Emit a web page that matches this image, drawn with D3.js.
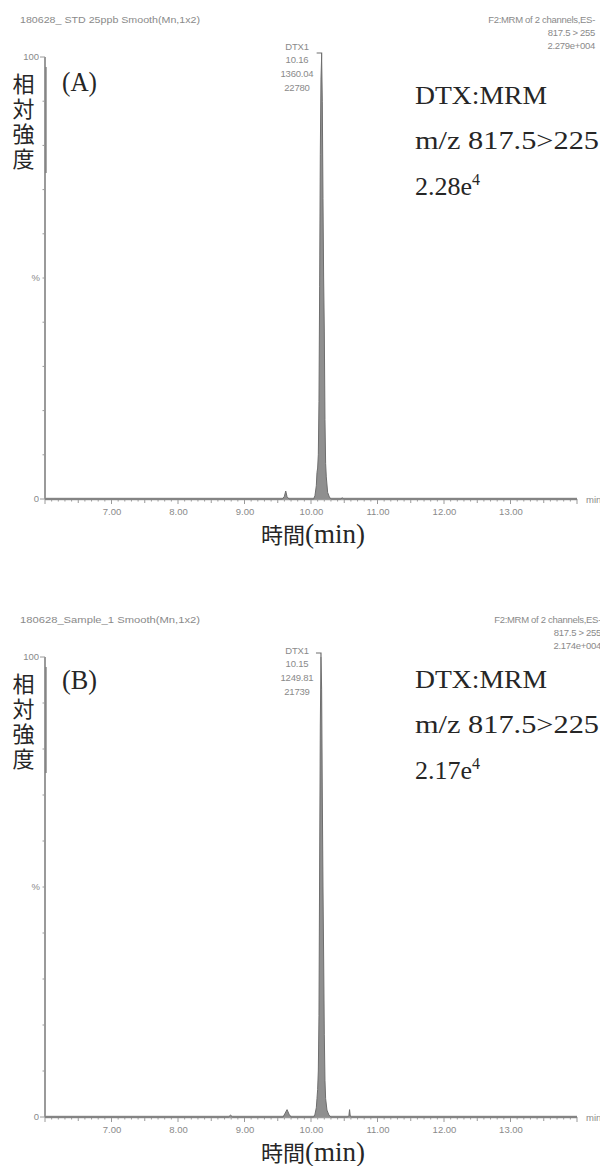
<!DOCTYPE html>
<html>
<head>
<meta charset="utf-8">
<script src="https://cdn.jsdelivr.net/npm/d3@7"></script>
<style>
  html, body { margin: 0; padding: 0; background: #fff; }
  svg { display: block; }
</style>
</head>
<body>
<svg id="chart" width="600" height="1166"></svg>
<script>
// ---- retention-time axis (min) ----
const timeDomain = [6, 14];
const timeTicks = [7, 8, 9, 10, 11, 12, 13];

// ---- chromatogram A : STD 25 ppb ----
const timesA = [6.00, 9.57, 9.60, 9.62, 9.64, 9.67, 10.04, 10.06, 10.08, 10.09, 10.10, 10.11,
  10.12, 10.13, 10.14, 10.15, 10.16, 10.17, 10.18, 10.19, 10.20, 10.21, 10.22, 10.23,
  10.25, 10.28, 10.31, 10.45, 10.47, 10.49, 14.00];
const intensityA = [0, 0, 0.6, 1.8, 0.5, 0, 0, 0.8, 3, 6, 7, 10,
  22, 48, 78, 95, 100, 90, 68, 50, 38, 18, 8, 5,
  1.5, 0.3, 0, 0, 0.3, 0, 0];

// ---- chromatogram B : Sample 1 ----
const timesB = [6.00, 8.76, 8.79, 8.82, 9.58, 9.61, 9.64, 9.67, 9.70, 10.04, 10.06, 10.08,
  10.09, 10.10, 10.11, 10.12, 10.13, 10.14, 10.15, 10.16, 10.17, 10.18, 10.19, 10.20,
  10.21, 10.22, 10.24, 10.27, 10.30, 10.55, 10.57, 10.58, 10.59, 10.61, 14.00];
const intensityB = [0, 0, 0.4, 0, 0, 0.8, 1.6, 0.6, 0, 0, 0.6, 2,
  4, 6, 10, 22, 55, 85, 100, 93, 70, 50, 35, 18,
  8, 4, 1.5, 0.4, 0, 0, 0.3, 1.6, 0.2, 0, 0];

// ---- texts ----
const fileTitles = ["180628_ STD 25ppb Smooth(Mn,1x2)", "180628_Sample_1 Smooth(Mn,1x2)"];
const channelInfoA = ["F2:MRM of 2 channels,ES-", "817.5 > 255", "2.279e+004"];
const channelInfoB = ["F2:MRM of 2 channels,ES-", "817.5 > 255", "2.174e+004"];
const peakTimes = [10.16, 10.15];
const peakLabelsA = ["DTX1", "10.16", "1360.04", "22780"];
const peakLabelsB = ["DTX1", "10.15", "1249.81", "21739"];
const panelTags = ["(A)", "(B)"];
const methodNotes = ["DTX:MRM", "m/z 817.5>225"];
const maxIntensityBase = ["2.28e", "2.17e"];
const maxIntensityExp = ["4", "4"];
const yAxisTitle = "相対強度";
const xAxisTitle = ["時間", "(min)"];

const svg = d3.select("#chart");
const grey = "#9a9a9a";
const smallText = "#8a8a8a";
const ink = "#262626";

const x = d3.scaleLinear().domain(timeDomain).range([45, 577]);

const panels = [
  { times: timesA, values: intensityA, info: channelInfoA, peak: peakLabelsA,
    top: 57, bottom: 499, labelTop: 46, infoDx: 0, tagY: 91, noteY: 104 },
  { times: timesB, values: intensityB, info: channelInfoB, peak: peakLabelsB,
    top: 657, bottom: 1117, labelTop: 650, infoDx: 6, tagY: 689, noteY: 688 }
];

panels.forEach((p, i) => {
  const g = svg.append("g");
  const y = d3.scaleLinear().domain([0, 100]).range([p.bottom, p.top]);
  const pts = p.times.map((t, k) => [t, p.values[k]]);

  // file header
  g.append("text").attr("x", 20).attr("y", p.top - 34)
    .attr("font-family", "Liberation Sans, Arial, sans-serif").attr("font-size", 9.5)
    .attr("fill", smallText).attr("textLength", 180).attr("lengthAdjust", "spacingAndGlyphs")
    .text(fileTitles[i]);

  // channel description, right aligned
  g.selectAll(".info").data(p.info).join("text")
    .attr("x", 595 + p.infoDx).attr("y", (d, k) => p.top - 34 + k * 13)
    .attr("text-anchor", "end")
    .attr("font-family", "Liberation Sans, Arial, sans-serif").attr("font-size", 9.5)
    .attr("fill", smallText).attr("letter-spacing", -0.3)
    .text(d => d);

  // x axis: major ticks each minute, half-minute and 0.1-minute minor ticks
  const minor = d3.range(60, 141).map(v => v / 10);
  g.append("g").selectAll("line").data(minor).join("line")
    .attr("x1", d => x(d)).attr("x2", d => x(d))
    .attr("y1", p.bottom)
    .attr("y2", d => p.bottom + (Math.abs(d - Math.round(d)) < 1e-6 ? 5 : Math.abs(d * 2 - Math.round(d * 2)) < 1e-6 ? 4 : 2.5))
    .attr("stroke", grey).attr("stroke-width", 1);

  const xAxis = d3.axisBottom(x).tickValues(timeTicks).tickFormat(d3.format(".2f"))
    .tickSize(0).tickPadding(9);
  const ax = g.append("g").attr("transform", `translate(0,${p.bottom})`).call(xAxis);
  ax.select(".domain").remove();
  ax.selectAll("text").attr("font-family", "Liberation Sans, Arial, sans-serif")
    .attr("font-size", 9.5).attr("fill", smallText);

  g.append("line").attr("x1", 45).attr("x2", 577).attr("y1", p.bottom).attr("y2", p.bottom)
    .attr("stroke", grey).attr("stroke-width", 2.5);
  g.append("text").attr("x", 586).attr("y", p.bottom + 4)
    .attr("font-family", "Liberation Sans, Arial, sans-serif").attr("font-size", 9.5)
    .attr("fill", smallText).text("min");

  // y axis: minor ticks every 10 %
  g.append("g").selectAll("line").data(d3.range(0, 101, 10)).join("line")
    .attr("x1", d => (d === 0 || d === 100) ? 40 : 42.5).attr("x2", 45)
    .attr("y1", d => y(d)).attr("y2", d => y(d))
    .attr("stroke", grey).attr("stroke-width", 1);
  g.append("line").attr("x1", 45).attr("x2", 45).attr("y1", p.top).attr("y2", p.bottom)
    .attr("stroke", grey).attr("stroke-width", 2);
  const yl = g.append("g").attr("font-family", "Liberation Sans, Arial, sans-serif")
    .attr("font-size", 9.5).attr("fill", smallText).attr("text-anchor", "end");
  yl.append("text").attr("x", 39).attr("y", y(100) + 3).text("100");
  yl.append("text").attr("x", 39).attr("y", y(0) + 3).text("0");
  yl.append("text").attr("x", 40).attr("y", y(50) + 3).text("%");

  // chromatogram trace
  const area = d3.area().x(d => x(d[0])).y0(y(0)).y1(d => y(d[1]));
  const line = d3.line().x(d => x(d[0])).y(d => y(d[1]));
  g.append("path").datum(pts).attr("d", area).attr("fill", "#8f8f8f");
  g.append("path").datum(pts).attr("d", line).attr("fill", "none")
    .attr("stroke", "#6e6e6e").attr("stroke-width", 1);

  // peak annotation with leader
  const px = x(peakTimes[i]);
  g.append("path").attr("d", `M${px - 5},${y(100) - 4}H${px}V${y(100)}`)
    .attr("fill", "none").attr("stroke", "#6e6e6e").attr("stroke-width", 1.2);
  g.selectAll(".pk").data(p.peak).join("text")
    .attr("x", 297).attr("y", (d, k) => p.labelTop + 3.5 + k * 13.7)
    .attr("text-anchor", "middle")
    .attr("font-family", "Liberation Sans, Arial, sans-serif").attr("font-size", 9.5)
    .attr("fill", smallText).attr("letter-spacing", -0.2)
    .text(d => d);

  // y axis title, written vertically with a bar beside it
  g.append("line").attr("x1", 46).attr("x2", 46).attr("y1", p.top + 10).attr("y2", p.top + 116)
    .attr("stroke", "#7a7a7a").attr("stroke-width", 1.3);
  g.append("text")
    .attr("x", 23.5).attr("y", p.top + 16)
    .attr("writing-mode", "vertical-rl")
    .attr("font-family", "Noto Sans CJK JP, sans-serif").attr("font-size", 22)
    .attr("letter-spacing", 3)
    .attr("fill", ink).text(yAxisTitle);

  // panel tag
  g.append("text").attr("x", 62).attr("y", p.tagY)
    .attr("font-family", "Liberation Serif, serif").attr("font-size", 27)
    .attr("fill", ink).attr("textLength", 35).attr("lengthAdjust", "spacingAndGlyphs")
    .text(panelTags[i]);

  // method notes on the right
  const nt = g.append("g").attr("font-family", "Liberation Serif, serif").attr("fill", ink);
  nt.append("text").attr("x", 415).attr("y", p.noteY).attr("font-size", 26)
    .attr("textLength", 132).attr("lengthAdjust", "spacingAndGlyphs").text(methodNotes[0]);
  nt.append("text").attr("x", 415).attr("y", p.noteY + 45).attr("font-size", 26)
    .attr("textLength", 184).attr("lengthAdjust", "spacingAndGlyphs").text(methodNotes[1]);
  const mx = nt.append("text").attr("x", 415).attr("y", p.noteY + 91).attr("font-size", 26);
  mx.append("tspan").text(maxIntensityBase[i]);
  mx.append("tspan").attr("font-size", 16).attr("dy", -10).text(maxIntensityExp[i]);

  // x axis title
  const xt = g.append("text").attr("x", 313).attr("y", p.bottom + 44)
    .attr("text-anchor", "middle").attr("fill", ink);
  xt.append("tspan").attr("font-family", "Noto Sans CJK JP, sans-serif").attr("font-size", 22)
    .text(xAxisTitle[0]);
  xt.append("tspan").attr("font-family", "Liberation Serif, serif").attr("font-size", 27)
    .text(xAxisTitle[1]);
});
</script>
</body>
</html>
